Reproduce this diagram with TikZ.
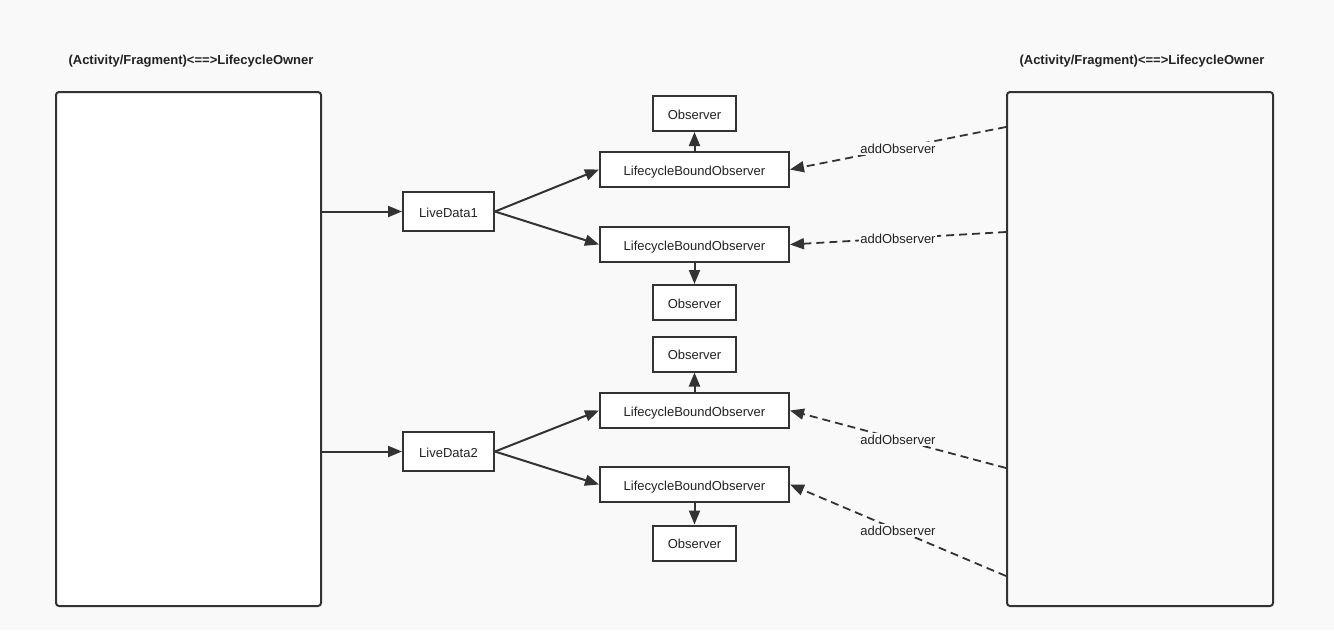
\documentclass[tikz,border=0pt]{standalone}
\usepackage{fontspec}
\setmainfont{Liberation Sans}
\usetikzlibrary{arrows.meta,calc}
\definecolor{bgcol}{HTML}{F9F9F9}
\definecolor{ink}{HTML}{333333}
\definecolor{txt}{HTML}{222222}
\tikzset{
  owner/.style={draw=ink, line width=2pt, rounded corners=3pt, anchor=north west, inner sep=0pt},
  title/.style={font=\fontsize{13}{15}\selectfont\bfseries, text=txt, text height=10pt, text depth=1pt},
  databox/.style={draw=ink, line width=2pt, fill=white, minimum width=91pt, minimum height=39pt, inner sep=0pt,
    font=\fontsize{13}{15}\selectfont, text=txt, text height=11pt, text depth=0pt},
  boundbox/.style={databox, minimum width=189pt, minimum height=35pt},
  obsbox/.style={databox, minimum width=83pt, minimum height=35pt},
  tip/.style={-{Triangle[length=14pt,width=11pt]}},
  link/.style={draw=ink, line width=2pt, tip},
  weak/.style={draw=ink, line width=1.8pt, dash pattern=on 8pt off 5pt, tip},
  lbl/.style={fill=bgcol, inner sep=1pt, font=\fontsize{13}{15}\selectfont, text=txt, text height=11pt, text depth=0pt}
}
\begin{document}
\begin{tikzpicture}[x=1pt,y=-1pt]
  % canvas
  \fill[bgcol] (0,0) rectangle (1334,630);
  \useasboundingbox (0,0) rectangle (1334,630);

  % lifecycle owners
  \node[title] (tl) at (191,60) {(Activity/Fragment)<==>LifecycleOwner};
  \node[title] (tr) at (1142,60) {(Activity/Fragment)<==>LifecycleOwner};
  \node[owner, fill=white, minimum width=265pt, minimum height=514pt] (L) at (55,91) {};
  \node[owner, minimum width=266pt, minimum height=514pt] (R) at (1006,91) {};

  % live data
  \node[databox] (ld1) at (448.5,211.5) {LiveData1};
  \node[databox] (ld2) at (448.5,451.5) {LiveData2};

  % bound observers
  \node[boundbox] (b1) at (694.5,169.5) {LifecycleBoundObserver};
  \node[boundbox] (b2) at (694.5,244.5) {LifecycleBoundObserver};
  \node[boundbox] (b3) at (694.5,410.5) {LifecycleBoundObserver};
  \node[boundbox] (b4) at (694.5,484.5) {LifecycleBoundObserver};

  % wrapped observers
  \node[obsbox] (o1) at (694.5,113.5) {Observer};
  \node[obsbox] (o2) at (694.5,302.5) {Observer};
  \node[obsbox] (o3) at (694.5,354) {Observer};
  \node[obsbox] (o4) at (694.5,543) {Observer};

  % owner -> live data
  \draw[link] (L.east |- ld1.west) -- (ld1.west);
  \draw[link] (L.east |- ld2.west) -- (ld2.west);

  % live data -> bound observers
  \draw[link] (ld1.east) -- (b1.west);
  \draw[link] (ld1.east) -- (b2.west);
  \draw[link] (ld2.east) -- (b3.west);
  \draw[link] (ld2.east) -- (b4.west);

  % bound observers -> observers
  \draw[link] (b1.north) -- (o1.south);
  \draw[link] (b2.south) -- (o2.north);
  \draw[link] (b3.north) -- (o3.south);
  \draw[link] (b4.south) -- (o4.north);

  % addObserver calls from the right owner
  \coordinate (r1) at (R.west |- 0,127);
  \coordinate (r2) at (R.west |- 0,232);
  \coordinate (r3) at (R.west |- 0,468);
  \coordinate (r4) at (R.west |- 0,576);
  \draw[weak] (r1) -- node[lbl] {addObserver} (b1.east);
  \draw[weak] (r2) -- node[lbl] {addObserver} (b2.east);
  \draw[weak] (r3) -- node[lbl] {addObserver} (b3.east);
  \draw[weak] (r4) -- node[lbl] {addObserver} (b4.east);
\end{tikzpicture}
\end{document}
